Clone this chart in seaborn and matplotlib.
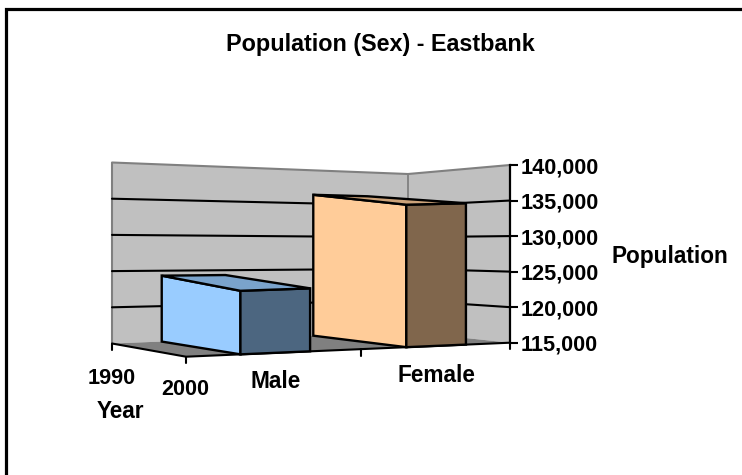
import numpy as np
import pandas as pd
import matplotlib
matplotlib.use("Agg")
import matplotlib.pyplot as plt
from matplotlib.patches import Polygon
from matplotlib.transforms import Transform
import seaborn as sns

# ---- data ----
title = "Population (Sex) - Eastbank"
categories = ["Male", "Female"]
years = ["1990", "2000"]
population_2000 = [124300, 136300]
value_ticks = [115000, 120000, 125000, 130000, 135000, 140000]
value_label = "Population"
year_label = "Year"
front_colors = ["#99CCFF", "#FFCC99"]
top_colors = ["#7AA3CC", "#CCA37A"]
side_colors = ["#4C6680", "#80664C"]

# ---- projection of the Excel-style 3D box (pixel space) ----
W, H = 742, 475
VMIN, VMAX = value_ticks[0], value_ticks[-1]
A = np.array([112.0, 343.5])   # back-left floor corner
B = np.array([408.0, 332.0])   # back-right floor corner
C = np.array([510.0, 342.7])   # front-right floor corner
D = np.array([186.0, 356.7])   # front-left floor corner
SA, SB, SD, SC = 181.0, 158.0, 172.0, 165.0   # height of the value range at the corners
SC_WALL = 177.7
BAR_T = [(0.168, 0.383), (0.680, 0.864)]      # bar extents along the category edge


def floor(s, t):
    s, t = np.asarray(s, float), np.asarray(t, float)
    return (((1 - s) * (1 - t))[..., None] * A + (s * (1 - t))[..., None] * D
            + ((1 - s) * t)[..., None] * B + (s * t)[..., None] * C)


def project(s, t, v):
    s, t, v = np.asarray(s, float), np.asarray(t, float), np.asarray(v, float)
    p = floor(s, t)
    sc = (1 - s) * (1 - t) * SA + s * (1 - t) * SD + (1 - s) * t * SB + s * t * SC
    p[..., 1] -= sc * (np.maximum(v, VMIN) - VMIN) / (VMAX - VMIN)
    return p


class FrontFace(Transform):
    """Maps the flat seaborn bars (category position, value) on to their front faces."""
    input_dims = output_dims = 2

    def __init__(self, half_width):
        super().__init__()
        self.hw = half_width

    def transform_non_affine(self, xy):
        xy = np.asarray(xy, float)
        i = np.clip(np.round(xy[:, 0]).astype(int), 0, len(BAR_T) - 1)
        s = np.clip((xy[:, 0] - i + self.hw) / (2 * self.hw), 0, 1)
        t = np.array([BAR_T[k][0] for k in i])
        return project(s, t, xy[:, 1])


sns.set_theme(style="white")
plt.rcParams["font.family"] = ["Liberation Sans", "DejaVu Sans"]
FS_TITLE, FS_LABEL, FS_TICK = 16.8, 16.3, 15.6

fig = plt.figure(figsize=(W / 100, H / 100), dpi=100, facecolor="white")
bg = fig.add_axes([0, 0, 1, 1], zorder=0)
bg.set_xlim(0, W)
bg.set_ylim(H, 0)
bg.axis("off")

# value axes box: right edge is the value axis
ax = fig.add_axes([112 / W, 1 - C[1] / H, (510 - 112) / W, (C[1] - 165) / H], zorder=1)
ax.patch.set_visible(False)

# outer chart border (only left and top remain inside the picture)
bg.plot([6, 6, W], [H, 9, 9], color="black", lw=2.3, solid_joinstyle="miter", clip_on=False)

# walls
fr = [(v - VMIN) / (VMAX - VMIN) for v in value_ticks]
back_low, back_high = A[1], A[1] - SA
corner_low, corner_high = B[1], B[1] - SB
right_low, right_high = C[1], C[1] - SC_WALL
bg.add_patch(Polygon([A, (A[0], back_high), (B[0], corner_high), B], fc="#C0C0C0", ec="none"))
bg.add_patch(Polygon([B, (B[0], corner_high), (C[0], right_high), C], fc="#C0C0C0", ec="none"))
bg.add_patch(Polygon([A, B, C, D], fc="#808080", ec="none"))
bg.plot([A[0], A[0], B[0], C[0]], [back_low, back_high, corner_high, right_high],
        color="#808080", lw=1.5)
bg.plot([B[0], B[0]], [corner_low, corner_high], color="#808080", lw=1.3)

# gridlines
for f in fr[1:-1]:
    y1 = back_low + (back_high - back_low) * f
    y2 = corner_low + (corner_high - corner_low) * f
    y3 = right_low + (right_high - right_low) * f
    bg.plot([A[0], B[0], C[0]], [y1, y2, y3], color="black", lw=1.5)

# floor axes with tick marks
bg.plot([A[0], D[0], C[0]], [A[1], D[1], C[1]], color="black", lw=1.5)
TICK = 6.5
tick_pts = [A, D, floor(1.0, 0.54), C]
for p in tick_pts:
    bg.plot([p[0], p[0]], [p[1], p[1] + TICK], color="black", lw=1.5)

# front faces: seaborn bars
df = pd.DataFrame({"Sex": categories, "Population": population_2000})
BAR_WIDTH = 0.8
sns.barplot(data=df, x="Sex", y="Population", hue="Sex", palette=front_colors, legend=False,
            width=BAR_WIDTH, saturation=1, edgecolor="black", linewidth=1.7, ax=ax, zorder=3)
front = FrontFace(BAR_WIDTH / 2)
for patch in ax.patches:
    patch.set_transform(front + bg.transData)
    patch.set_clip_on(False)
    patch.set_joinstyle("miter")

# side and top faces from the same values
for i, v in enumerate(population_2000):
    t0, t1 = BAR_T[i]
    side = [project(1, t0, VMIN), project(1, t0, v), project(1, t1, v), project(1, t1, VMIN)]
    top = [project(0, t0, v), project(0, t1, v), project(1, t1, v), project(1, t0, v)]
    ax.add_patch(Polygon(side, fc=side_colors[i], ec="black", lw=1.7, transform=bg.transData,
                         clip_on=False, zorder=3))
    ax.add_patch(Polygon(top, fc=top_colors[i], ec="black", lw=1.7, transform=bg.transData,
                         clip_on=False, zorder=3))

# value axis
ax.set_xlim(-0.5, 1.5)
ax.set_ylim(VMIN, VMAX)
ax.set_xticks([])
ax.set_xlabel("")
ax.set_ylabel("")
ax.yaxis.tick_right()
ax.set_yticks(value_ticks)
ax.set_yticklabels([f"{v:,}" for v in value_ticks], fontsize=FS_TICK, fontweight="bold", color="black")
ax.tick_params(axis="y", direction="out", length=5.8, width=1.5, pad=2.2, color="black",
               right=True, left=False)
for name, sp in ax.spines.items():
    sp.set_visible(name == "right")
ax.spines["right"].set_linewidth(1.6)
ax.spines["right"].set_color("black")

# texts
kw = dict(fontweight="bold", color="black", ha="center", va="center")
bg.text(380.5, 44, title, fontsize=FS_TITLE, **kw)
bg.text(669.5, 257, value_label, fontsize=FS_LABEL, **kw)
bg.text(111.5, 378, years[0], fontsize=FS_TICK, **kw)
bg.text(185.5, 389.5, years[1], fontsize=FS_TICK, **kw)
bg.text(120.5, 412, year_label, fontsize=FS_LABEL, **kw)
bg.text(275.5, 382, categories[0], fontsize=FS_LABEL, **kw)
bg.text(436.5, 375, categories[1], fontsize=FS_LABEL, **kw)

fig.savefig("out.png", dpi=100, facecolor="white")
